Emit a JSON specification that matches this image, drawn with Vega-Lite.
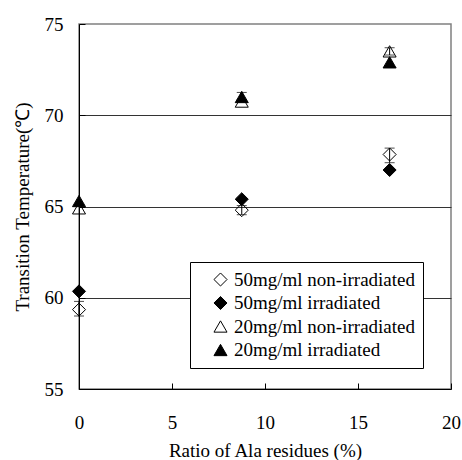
{
  "$schema": "https://vega.github.io/schema/vega-lite/v6.json",
  "width": 372,
  "height": 365,
  "autosize": "none",
  "padding": {"left": 79, "top": 24, "right": 11, "bottom": 71},
  "background": "white",
  "config": {
    "font": "Liberation Serif",
    "view": {"stroke": "#808080", "strokeWidth": 1.5}
  },
  "datasets": {
    "pts": [
      {"group": "50mg/ml non-irradiated", "ratio": 0, "temp": 59.35},
      {"group": "50mg/ml non-irradiated", "ratio": 8.75, "temp": 64.8},
      {"group": "50mg/ml non-irradiated", "ratio": 16.7, "temp": 67.85},
      {"group": "50mg/ml irradiated", "ratio": 0, "temp": 60.35},
      {"group": "50mg/ml irradiated", "ratio": 8.75, "temp": 65.4},
      {"group": "50mg/ml irradiated", "ratio": 16.7, "temp": 67.0},
      {"group": "20mg/ml non-irradiated", "ratio": 0, "temp": 64.9},
      {"group": "20mg/ml non-irradiated", "ratio": 8.75, "temp": 70.75},
      {"group": "20mg/ml non-irradiated", "ratio": 16.7, "temp": 73.5},
      {"group": "20mg/ml irradiated", "ratio": 0, "temp": 65.3},
      {"group": "20mg/ml irradiated", "ratio": 8.75, "temp": 71.0},
      {"group": "20mg/ml irradiated", "ratio": 16.7, "temp": 72.9}
    ],
    "errs": [
      {"ratio": 0, "lo": 59.0, "hi": 59.8},
      {"ratio": 8.75, "lo": 64.55, "hi": 65.05},
      {"ratio": 16.7, "lo": 67.4, "hi": 68.2},
      {"ratio": 8.75, "lo": 70.85, "hi": 71.25},
      {"ratio": 16.7, "lo": 73.3, "hi": 73.7}
    ]
  },
  "layer": [
    {
      "data": {"name": "errs"},
      "mark": {
        "type": "errorbar",
        "ticks": {"size": 10, "color": "black", "thickness": 1},
        "rule": {"color": "black", "strokeWidth": 1}
      },
      "encoding": {
        "x": {
          "field": "ratio", "type": "quantitative", "scale": {"domain": [0, 20], "nice": false, "zero": false},
          "axis": {
            "values": [0, 5, 10, 15, 20], "format": "d", "grid": false, "labelFlush": false,
            "tickSize": -6, "tickColor": "black", "tickWidth": 1, "domainColor": "black",
            "labelPadding": 30, "labelFontSize": 19, "labelColor": "black", "labelFont": "Liberation Serif",
            "title": "Ratio of Ala residues (%)", "titleFontSize": 19, "titleFontWeight": "normal",
            "titleColor": "black", "titleFont": "Liberation Serif", "titleY": 67, "titleBaseline": "alphabetic"
          }
        },
        "y": {
          "field": "lo", "type": "quantitative", "scale": {"domain": [55, 75], "nice": false, "zero": false},
          "axis": {
            "values": [55, 60, 65, 70, 75], "format": "d", "grid": true, "labelFlush": false,
            "gridColor": {"condition": {"test": "datum.value === 55 || datum.value === 75", "value": "transparent"}, "value": "#333333"},
            "tickSize": -6, "tickColor": "black", "tickWidth": 1, "domainColor": "black",
            "labelPadding": 22, "labelFontSize": 19, "labelColor": "black", "labelFont": "Liberation Serif",
            "title": "Transition Temperature(℃)", "titleFontSize": 19, "titleFontWeight": "normal",
            "titleColor": "black", "titleFont": "Liberation Serif", "titleX": -51, "titleY": 182.5,
            "titleBaseline": "alphabetic"
          }
        },
        "y2": {"field": "hi"}
      }
    },
    {
      "data": {"name": "pts"},
      "mark": {"type": "point", "filled": false, "strokeWidth": 1, "size": 170, "opacity": 1, "strokeOpacity": 1},
      "encoding": {
        "x": {"field": "ratio", "type": "quantitative", "scale": {"domain": [0, 20], "nice": false, "zero": false}},
        "y": {"field": "temp", "type": "quantitative", "scale": {"domain": [55, 75], "nice": false, "zero": false}},
        "shape": {
          "field": "group", "type": "nominal",
          "scale": {
            "domain": ["50mg/ml non-irradiated", "50mg/ml irradiated", "20mg/ml non-irradiated", "20mg/ml irradiated"],
            "range": ["diamond", "diamond", "triangle-up", "triangle-up"]
          },
          "legend": {
            "orient": "none", "legendX": 111, "legendY": 238, "title": null,
            "strokeColor": "black", "fillColor": "white", "padding": 8,
            "labelFontSize": 19, "labelFont": "Liberation Serif", "labelColor": "black", "labelLimit": 400,
            "symbolSize": 170, "symbolStrokeWidth": 1,
            "rowPadding": 3.5, "symbolOffset": 13, "labelOffset": 4
          }
        },
        "fill": {
          "field": "group", "type": "nominal",
          "scale": {
            "domain": ["50mg/ml non-irradiated", "50mg/ml irradiated", "20mg/ml non-irradiated", "20mg/ml irradiated"],
            "range": ["transparent", "black", "transparent", "black"]
          },
          "legend": {
            "orient": "none", "legendX": 111, "legendY": 238, "title": null,
            "strokeColor": "black", "fillColor": "white", "padding": 8,
            "labelFontSize": 19, "labelFont": "Liberation Serif", "labelColor": "black", "labelLimit": 400,
            "symbolSize": 170, "symbolStrokeWidth": 1,
            "rowPadding": 3.5, "symbolOffset": 13, "labelOffset": 4
          }
        },
        "stroke": {
          "field": "group", "type": "nominal",
          "scale": {
            "domain": ["50mg/ml non-irradiated", "50mg/ml irradiated", "20mg/ml non-irradiated", "20mg/ml irradiated"],
            "range": ["black", "black", "black", "black"]
          },
          "legend": {
            "orient": "none", "legendX": 111, "legendY": 238, "title": null,
            "strokeColor": "black", "fillColor": "white", "padding": 8,
            "labelFontSize": 19, "labelFont": "Liberation Serif", "labelColor": "black", "labelLimit": 400,
            "symbolSize": 170, "symbolStrokeWidth": 1,
            "rowPadding": 3.5, "symbolOffset": 13, "labelOffset": 4
          }
        }
      }
    }
  ]
}
